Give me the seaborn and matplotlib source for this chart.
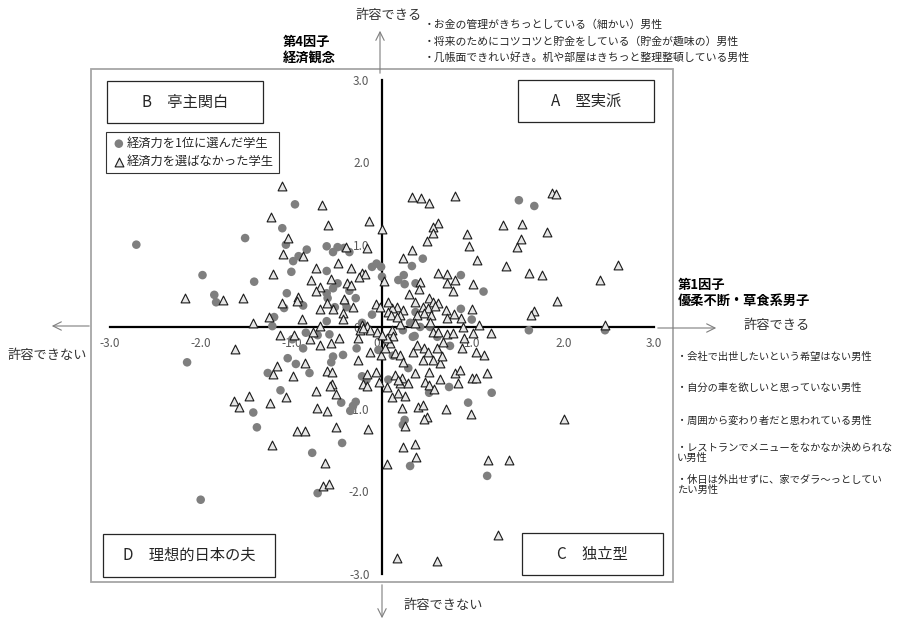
import pandas as pd
import seaborn as sns
import matplotlib.pyplot as plt
from matplotlib.patches import Rectangle

W, H = 902, 623

# 経済力を1位に選んだ学生 (第1因子, 第4因子)
circle_x = [-2.71, -0.96, -1.51, -1.10, -1.98, -1.41, -1.85, -1.83, -1.06, -0.98,
            -0.92, -0.83, -1.00, -0.61, -0.54, -0.49, -0.42, -0.36, -0.61, -0.11,
            -0.06, -0.01, 0.00, -1.05, -0.87, -1.08, -0.54, -0.49, -0.36, -0.29,
            -0.61, -0.60, -0.41, -0.39, -0.52, 0.18, 0.24, 0.25, 0.33, 0.45,
            0.37, 0.37, -1.19, -0.11, 0.87, 1.12, 0.87, 0.99, 0.31, 0.42,
            0.53, 1.51, 1.68, 1.62, 2.46, -0.61, -0.22, -1.21, 0.23, 0.36,
            0.61, 0.75, 0.12, 0.29, 0.74, 0.52, 1.21, 0.95, 0.25, 0.23,
            -0.84, -0.71, -0.58, -0.99, -0.87, -0.43, -0.54, -0.56, -0.28, -1.04,
            -0.95, -0.80, -0.22, -0.17, 0.07, -1.12, -0.45, -0.29, -0.32, -0.35,
            -0.44, -2.15, -2.00, -1.26, -1.42, -1.38, -0.77, -0.71, 0.31, 1.16,
            -0.04, 0.34]
circle_y = [1.00, 1.49, 1.08, 1.20, 0.63, 0.55, 0.39, 0.30, 1.00, 0.80,
            0.86, 0.94, 0.67, 0.98, 0.91, 0.97, 0.96, 0.91, 0.68, 0.73,
            0.77, 0.73, 0.61, 0.41, 0.26, 0.23, 0.47, 0.53, 0.44, 0.35,
            0.41, 0.35, 0.30, 0.24, 0.24, 0.57, 0.63, 0.52, 0.74, 0.83,
            0.53, 0.18, 0.12, 0.15, 0.63, 0.43, 0.22, 0.09, 0.05, 0.00,
            0.00, 1.54, 1.47, -0.04, -0.04, 0.07, 0.05, 0.01, -0.04, -0.11,
            -0.12, -0.23, -0.35, -0.50, -0.73, -0.80, -0.80, -0.92, -1.13, -1.19,
            -0.07, -0.10, -0.09, -0.15, -0.26, -0.34, -0.36, -0.43, -0.26, -0.38,
            -0.45, -0.56, -0.60, -0.64, -0.64, -0.77, -0.92, -0.91, -0.96, -1.02,
            -1.41, -0.43, -2.10, -0.56, -1.04, -1.22, -1.53, -2.02, -1.69, -1.81,
            -0.28, -0.12]

# 経済力を選ばなかった学生
tri_x = [-1.10, -0.66, -1.22, -0.60, -0.14, 0.00, -1.04, -0.40, -0.17, -1.09,
         -0.87, -0.49, -0.73, -0.34, -1.20, -0.22, -0.19, -0.78, -0.56, -0.39,
         -0.34, -0.25, -0.68, -0.73, -2.17, -1.75, -1.53, -0.93, -1.10, -0.61,
         -0.68, -0.54, -0.42, -0.32, -0.43, -0.43, -0.88, -0.07, -0.02, -1.25,
         -1.42, -0.68, -0.22, -0.17, -0.94,
         0.02, 0.33, 0.43, 0.52, 0.62, 0.56, 0.56, 0.50, 0.33, 0.23,
         0.80, 1.87, 1.92, 1.33, 1.54, 1.82, 0.94, 0.96, 1.53, 1.49,
         1.05, 1.37, 2.60, 1.62, 1.76, 2.41, 0.62, 0.72, 0.80, 0.78,
         1.00, 0.72, 0.42, 0.41, 0.30, 1.93, 0.99, 0.79, 0.87, 1.68,
         1.64, 2.46, 0.36, 0.52, 0.56, 0.62, 0.45, 0.51, 0.58, 0.17,
         0.23, 0.11, 0.20, 0.71, 0.54, 0.46, 0.39, 0.72, 1.07, 0.20,
         0.36, 0.53, 0.07, 0.07, 0.10, 0.17, 0.89,
         0.11, 0.12, 0.09, 0.14, 0.20, 0.23, 0.56, 0.62, 0.72, 0.78,
         1.00, 1.20, 0.67, 0.90, 0.88, 0.39, 0.34, 0.46, 0.51, 0.61,
         1.04, 1.12, 0.45, 0.56, 0.64, 0.66, 0.36, 0.52, 0.14, 0.22,
         0.20, 0.29, 0.47, 0.52, 0.57, 0.64, 0.80, 0.86, 0.84, 0.99,
         1.04, 1.16, 0.11, 0.18, 0.25, 0.22, 0.40, 0.45, 0.71, 0.98,
         0.50, 0.46, 0.25, 0.23, 0.36, 0.37, 0.06, 1.17, 1.40, 2.01,
         1.28, 0.17, 0.61, 0.06, 0.18, -0.01, 0.03, 0.06,
         -1.62, -1.12, -0.97, -0.79, -0.68, -0.56, -0.47, -0.76, -0.26, -0.24,
         -0.13, -0.06, -0.13, -0.26, -1.16, -1.20, -0.98, -0.85, -0.61, -0.55,
         -0.55, -0.57, -0.17, -0.07, -0.21, -0.17, -0.03, -1.23, -1.06, -0.73,
         -0.51, -0.72, -0.61, -0.94, -0.85, -0.51, -0.15, -1.21, -0.63, -0.65,
         -0.58, -1.63, -1.58, -1.47, 0.00, -0.21]
tri_y = [1.71, 1.48, 1.34, 1.24, 1.29, 1.19, 1.08, 0.97, 0.96, 0.89,
         0.86, 0.78, 0.72, 0.72, 0.64, 0.66, 0.64, 0.57, 0.58, 0.53,
         0.51, 0.61, 0.49, 0.44, 0.35, 0.33, 0.35, 0.36, 0.29, 0.29,
         0.22, 0.22, 0.34, 0.24, 0.17, 0.10, 0.10, 0.28, 0.24, 0.12,
         0.05, 0.01, 0.02, 0.01, 0.32,
         0.56, 1.58, 1.57, 1.51, 1.26, 1.22, 1.14, 1.04, 0.94, 0.84,
         1.59, 1.63, 1.62, 1.24, 1.25, 1.15, 1.13, 0.98, 1.07, 0.97,
         0.81, 0.74, 0.75, 0.66, 0.63, 0.57, 0.66, 0.64, 0.57, 0.44,
         0.52, 0.53, 0.55, 0.46, 0.40, 0.32, 0.22, 0.16, 0.11, 0.19,
         0.15, 0.02, 0.30, 0.35, 0.30, 0.29, 0.24, 0.23, 0.26, 0.24,
         0.21, 0.23, 0.15, 0.21, 0.15, 0.17, 0.15, 0.11, 0.02, 0.04,
         0.05, 0.06, 0.30, 0.18, 0.15, 0.12, 0.00,
         -0.04, -0.11, -0.19, -0.32, -0.34, -0.43, -0.06, -0.06, -0.09, -0.07,
         -0.07, -0.07, -0.18, -0.13, -0.26, -0.22, -0.30, -0.26, -0.30, -0.26,
         -0.30, -0.34, -0.40, -0.40, -0.44, -0.35, -0.56, -0.55, -0.58, -0.62,
         -0.68, -0.68, -0.67, -0.70, -0.75, -0.63, -0.56, -0.52, -0.68, -0.62,
         -0.62, -0.56, -0.85, -0.80, -0.84, -0.98, -0.97, -0.95, -1.00, -1.06,
         -1.09, -1.12, -1.20, -1.46, -1.42, -1.58, -1.66, -1.62, -1.62, -1.12,
         -2.53, -2.81, -2.84, -0.73, -0.64, -0.34, -0.26, -0.13,
         -0.27, -0.10, -0.10, -0.15, -0.22, -0.19, -0.13, -0.06, -0.13, -0.04,
         -0.04, -0.06, -0.30, -0.40, -0.47, -0.57, -0.60, -0.44, -0.53, -0.55,
         -0.69, -0.72, -0.57, -0.55, -0.69, -0.72, -0.67, -0.92, -0.85, -0.78,
         -0.81, -0.98, -1.02, -1.26, -1.26, -1.22, -1.24, -1.43, -1.65, -1.93,
         -1.91, -0.90, -0.97, -0.84, -0.10, -0.01]

ticks = [-3, -2, -1, 0, 1, 2, 3]
tick_labels = ["-3.0", "-2.0", "-1.0", "0.0", "1.0", "2.0", "3.0"]

label_circle = "経済力を1位に選んだ学生"
label_tri = "経済力を選ばなかった学生"

top_notes = ["・お金の管理がきちっとしている（細かい）男性",
             "・将来のためにコツコツと貯金をしている（貯金が趣味の）男性",
             "・几帳面できれい好き。机や部屋はきちっと整理整頓している男性"]
right_notes = ["・会社で出世したいという希望はない男性",
               "・自分の車を欲しいと思っていない男性",
               "・周囲から変わり者だと思われている男性",
               "・レストランでメニューをなかなか決められな\nい男性",
               "・休日は外出せずに、家でダラ～っとしてい\nたい男性"]

df_c = pd.DataFrame({"x": circle_x, "y": circle_y})
df_t = pd.DataFrame({"x": tri_x, "y": tri_y})

sns.set_style("white")
plt.rcParams['font.family'] = ['Noto Sans CJK JP', 'DejaVu Sans']


def fx(px):
    return px / W


def fy(py):
    return 1 - py / H


fig = plt.figure(figsize=(W / 100, H / 100), dpi=100)
ax = fig.add_axes([fx(91), fy(582), (673 - 91) / W, (582 - 69) / H])

sns.scatterplot(data=df_c, x="x", y="y", ax=ax, marker="o", s=38,
                color="#7f7f7f", edgecolor="none", label=label_circle, zorder=3)
sns.scatterplot(data=df_t, x="x", y="y", ax=ax, marker="^", s=40,
                color="#e6e6e6", edgecolor="#1a1a1a", linewidth=0.8,
                label=label_tri, zorder=4)

ax.set_xlim(-3.21, 3.21)
ax.set_ylim(-3.10, 3.135)
ax.set_xlabel("")
ax.set_ylabel("")

# 原点で交わる軸
for side in ["left", "bottom"]:
    ax.spines[side].set_position(("data", 0))
    ax.spines[side].set_bounds(-3, 3)
    ax.spines[side].set_linewidth(1.6)
    ax.spines[side].set_color("black")
    ax.spines[side].set_visible(True)
ax.spines["top"].set_visible(False)
ax.spines["right"].set_visible(False)
ax.set_xticks(ticks, tick_labels)
ax.set_yticks(ticks, tick_labels)
ax.tick_params(direction="out", length=3, width=1, color="black",
               labelsize=8.5, labelcolor="#595959")
ax.tick_params(axis="x", pad=4)
ax.tick_params(axis="y", pad=6)

# 外枠
ax.add_patch(Rectangle((0, 0), 1, 1, transform=ax.transAxes, fill=False,
                       edgecolor="#a6a6a6", lw=1.3, clip_on=False, zorder=1))

leg = ax.legend(loc="upper left", bbox_to_anchor=(fx(106), fy(132)),
                bbox_transform=fig.transFigure, frameon=True, fancybox=False,
                edgecolor="#333333", framealpha=1, fontsize=8.8,
                handletextpad=0.0, handlelength=1.3, borderpad=0.4,
                labelspacing=0.4, borderaxespad=0)
leg.get_frame().set_linewidth(0.8)

# 象限ラベル
boxes = [("B　亭主関白", 107, 81, 263, 123),
         ("A　堅実派", 518, 80, 654, 122),
         ("D　理想的日本の夫", 103, 534, 275, 577),
         ("C　独立型", 522, 533, 663, 575)]
for text, x0, y0, x1, y1 in boxes:
    fig.add_artist(Rectangle((fx(x0), fy(y1)), (x1 - x0) / W, (y1 - y0) / H,
                             transform=fig.transFigure, fill=False,
                             edgecolor="#262626", lw=0.9))
    fig.text(fx((x0 + x1) / 2), fy((y0 + y1) / 2), text, ha="center",
             va="center", fontsize=11, color="#262626")

# 矢印
arrow = dict(arrowstyle="->,head_length=0.6,head_width=0.3", color="#7f7f7f", lw=0.8)
ax.annotate("", xy=(fx(380), fy(28)), xytext=(fx(380), fy(76)),
            xycoords="figure fraction", textcoords="figure fraction", arrowprops=arrow)
ax.annotate("", xy=(fx(382), fy(621)), xytext=(fx(382), fy(582)),
            xycoords="figure fraction", textcoords="figure fraction", arrowprops=arrow)
ax.annotate("", xy=(fx(49), fy(326)), xytext=(fx(92), fy(326)),
            xycoords="figure fraction", textcoords="figure fraction", arrowprops=arrow)
ax.annotate("", xy=(fx(719), fy(328)), xytext=(fx(655), fy(328)),
            xycoords="figure fraction", textcoords="figure fraction", arrowprops=arrow)

fig.text(fx(389), fy(15), "許容できる", ha="center", va="center", fontsize=9.5, color="#333333")
fig.text(fx(404), fy(606), "許容できない", ha="left", va="center", fontsize=9.5, color="#333333")
fig.text(fx(8), fy(355), "許容できない", ha="left", va="center", fontsize=9.5, color="#333333")
fig.text(fx(743), fy(326), "許容できる", ha="left", va="center", fontsize=9.5, color="#333333")

fig.text(fx(283), fy(50), "第4因子\n経済観念", ha="left", va="center",
         fontsize=9.5, fontweight="bold", linespacing=1.1, color="black")
fig.text(fx(678), fy(293), "第1因子\n優柔不断・草食系男子", ha="left", va="center",
         fontsize=9.5, fontweight="bold", linespacing=1.1, color="black")

for i, note in enumerate(top_notes):
    fig.text(fx(424), fy(25 + 16 * i), note, ha="left", va="center",
             fontsize=7.8, color="#262626")

for note, py in zip(right_notes, [357, 388, 421, 453, 485]):
    fig.text(fx(677), fy(py), note, ha="left", va="center",
             fontsize=7.4, linespacing=1.05, color="#262626")

fig.savefig("out.png", dpi=100)
